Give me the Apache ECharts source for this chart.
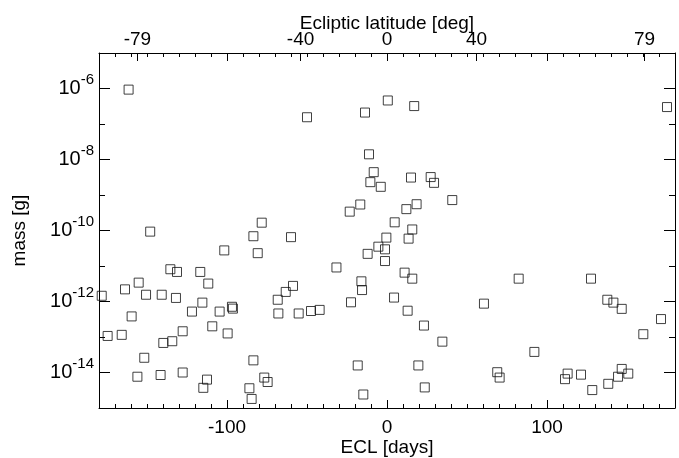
<!DOCTYPE html>
<html>
<head>
<meta charset="utf-8">
<script src="https://cdn.jsdelivr.net/npm/echarts@6/dist/echarts.min.js"></script>
<style>
html,body{margin:0;padding:0;background:#fff;}
#chart{width:679px;height:458px;}
</style>
</head>
<body>
<div id="chart"></div>
<script>
// ECL [days] of each meteoroid
const eclDays = [
  -161.5, -50, -13.75, 0.5, 17, 175,
  -11.25, -8.3, -10.4, -3.9, 15, 27.3, 29.4, 40.8, -16.7, -23.3, 18.5, 12.1, 4.8, 15.8,
  -78.3, -148, -83.5, -60, -101.7, -80.8,
  -135.4, -131.25, -116.7, -111.7, -155.2, -163.75, -150.6, -140.8, -131.9, -178.3,
  -115.4, -121.9, -104.6, -96.9, -96.3, -159.6, -68.3, -63.3, -58.75, -67.9, -55.2,
  -109.2, -99.6, -127.7, -134.2, -139.8, -174.6, -165.8, -151.7, -83.5,
  -156, -141.5, -127.7, -112.5, -114.8, -76.7, -74.6, -86, -84.6,
  -31.6, -0.4, 13.5, -5.4, -1.25, -12.1, -1.25, 11, 15.8, -16, -15.6, 4.4, -22.5,
  -47.5, -42.1, 12.9, 23.1, 34.6, 60.6, -18.3, 19.6, 23.6, -14.8,
  82.3, 127.5, 137.7, 141.5, 146.7, 171.25, 160.2, 92.1,
  68.9, 70.4, 112.9, 111.25, 121.25, 128.3, 138.3, 144.4, 146.7, 150.8
];
// mass [g]
const massG = [
  9.3e-7, 1.55e-7, 2.1e-7, 4.6e-7, 3.2e-7, 3.0e-7,
  1.4e-8, 4.4e-9, 2.3e-9, 1.7e-9, 3.1e-9, 3.2e-9, 2.2e-9, 7.2e-10, 5.4e-10, 3.4e-10, 5.5e-10, 4.0e-10, 1.7e-10, 1.07e-10,
  1.66e-10, 9.3e-11, 6.9e-11, 6.5e-11, 2.75e-11, 2.3e-11,
  8.1e-12, 6.8e-12, 6.8e-12, 3.2e-12, 3.4e-12, 2.2e-12, 1.55e-12, 1.55e-12, 1.26e-12, 1.45e-12,
  9.3e-13, 5.2e-13, 5.2e-13, 7.1e-13, 6.3e-13, 3.8e-13, 1.12e-12, 1.86e-12, 2.75e-12, 4.6e-13, 4.6e-13,
  2.0e-13, 1.26e-13, 1.45e-13, 7.6e-14, 6.8e-14, 1.07e-13, 1.15e-13, 2.6e-14, 2.2e-14,
  7.6e-15, 8.5e-15, 1.0e-14, 6.3e-15, 3.7e-15, 7.2e-15, 5.4e-15, 3.6e-15, 1.8e-15,
  9.1e-12, 6.3e-11, 5.9e-11, 3.5e-11, 2.95e-11, 2.2e-11, 1.38e-11, 6.5e-12, 4.4e-12, 3.7e-12, 2.1e-12, 1.29e-12, 9.5e-13,
  5.4e-13, 5.8e-13, 5.5e-13, 2.1e-13, 7.4e-14, 8.7e-13, 1.58e-14, 1.58e-14, 3.8e-15, 2.4e-15,
  4.4e-12, 4.4e-12, 1.12e-12, 9.3e-13, 6.2e-13, 3.2e-13, 1.2e-13, 3.8e-14,
  1.02e-14, 7.2e-15, 9.3e-15, 6.5e-15, 8.7e-15, 3.2e-15, 4.8e-15, 7.6e-15, 1.26e-14, 9.3e-15
];
// bottom axis labelled ticks [days]
const eclTicks = [-100, 0, 100];
// top axis: ecliptic latitude ticks, placed at ECL [days]
const latTickDays = [-156, -54, 0, 56, 161];
const latTickLabels = ['-79', '-40', '0', '40', '79'];
// y-axis labelled decades (exponents of 10)
const massLabelExps = [-14, -12, -10, -8, -6];

const FONT = 'Liberation Sans';
const points = eclDays.map((d, i) => [d, massG[i]]);

const chart = echarts.init(document.getElementById('chart'), null, {renderer: 'canvas'});
const blk = '#000';
const lineStyle = {color: blk, width: 1};

chart.setOption({
  animation: false,
  backgroundColor: '#fff',
  grid: {left: 99, right: 4, top: 53, bottom: 50, containLabel: false, outerBoundsMode: 'none'},
  textStyle: {fontFamily: FONT, color: blk},
  xAxis: [
    { // bottom, labelled
      type: 'value', position: 'bottom', min: -180, max: 180,
      axisLine: {show: true, onZero: false, lineStyle},
      axisTick: {show: true, inside: true, length: 8, customValues: eclTicks, lineStyle},
      axisLabel: {show: true, customValues: eclTicks, margin: 10, fontSize: 19, fontFamily: FONT, color: blk},
      splitLine: {show: false},
      name: 'ECL [days]', nameLocation: 'middle', nameGap: 30, nameMoveOverlap: false,
      nameTextStyle: {fontSize: 19, fontFamily: FONT, color: blk}
    },
    { // bottom minor ticks
      type: 'value', position: 'bottom', min: -180, max: 180, interval: 10,
      axisLine: {show: false, onZero: false},
      axisTick: {show: true, inside: true, length: 4, lineStyle},
      axisLabel: {show: false}, splitLine: {show: false}
    },
    { // top, ecliptic latitude
      type: 'value', position: 'top', min: -180, max: 180,
      axisLine: {show: true, onZero: false, lineStyle},
      axisTick: {show: true, inside: true, length: 8, customValues: latTickDays.concat([-100, 100]), lineStyle},
      axisLabel: {
        show: true, customValues: latTickDays, margin: 4, fontSize: 19, fontFamily: FONT, color: blk,
        formatter: v => { const i = latTickDays.indexOf(v); return i >= 0 ? latTickLabels[i] : ''; }
      },
      splitLine: {show: false},
      name: 'Ecliptic latitude [deg]', nameLocation: 'middle', nameGap: 20, nameMoveOverlap: false,
      nameTextStyle: {fontSize: 19, fontFamily: FONT, color: blk}
    },
    { // top minor ticks
      type: 'value', position: 'top', min: -180, max: 180, interval: 10,
      axisLine: {show: false, onZero: false},
      axisTick: {show: true, inside: true, length: 4, lineStyle},
      axisLabel: {show: false}, splitLine: {show: false}
    }
  ],
  yAxis: [
    { // left, data axis (log), every decade short tick
      type: 'log', logBase: 10, position: 'left', min: 1e-15, max: 1e-5, interval: 1,
      axisLine: {show: true, onZero: false, lineStyle},
      axisTick: {show: true, inside: true, length: 6, lineStyle},
      axisLabel: {show: false}, splitLine: {show: false}, minorTick: {show: false}
    },
    { // left, labelled decades
      type: 'value', position: 'left', min: -15, max: -5,
      axisLine: {show: false, onZero: false},
      axisTick: {show: true, inside: true, length: 11, customValues: massLabelExps, lineStyle},
      axisLabel: {
        show: true, customValues: massLabelExps, margin: 5,
        formatter: v => '{b|10}{s|' + v + '}',
        rich: {
          b: {fontSize: 20, fontFamily: FONT, color: blk, lineHeight: 32, verticalAlign: 'middle'},
          s: {fontSize: 15, fontFamily: FONT, color: blk, lineHeight: 15, verticalAlign: 'top'}
        }
      },
      splitLine: {show: false},
      name: 'mass [g]', nameLocation: 'middle', nameGap: 70, nameRotate: 90, nameMoveOverlap: false,
      nameTextStyle: {fontSize: 19, fontFamily: FONT, color: blk}
    },
    { // right, every decade short tick
      type: 'log', logBase: 10, position: 'right', min: 1e-15, max: 1e-5, interval: 1,
      axisLine: {show: true, onZero: false, lineStyle},
      axisTick: {show: true, inside: true, length: 6, lineStyle},
      axisLabel: {show: false}, splitLine: {show: false}
    },
    { // right, long ticks at labelled decades
      type: 'value', position: 'right', min: -15, max: -5,
      axisLine: {show: false, onZero: false},
      axisTick: {show: true, inside: true, length: 11, customValues: massLabelExps, lineStyle},
      axisLabel: {show: false}, splitLine: {show: false}
    }
  ],
  series: [{
    type: 'scatter', xAxisIndex: 0, yAxisIndex: 0,
    data: points,
    symbol: 'rect', symbolSize: 9,
    itemStyle: {color: 'rgba(0,0,0,0)', borderColor: '#111', borderWidth: 1},
    emphasis: {disabled: true}
  }]
});
</script>
</body>
</html>
